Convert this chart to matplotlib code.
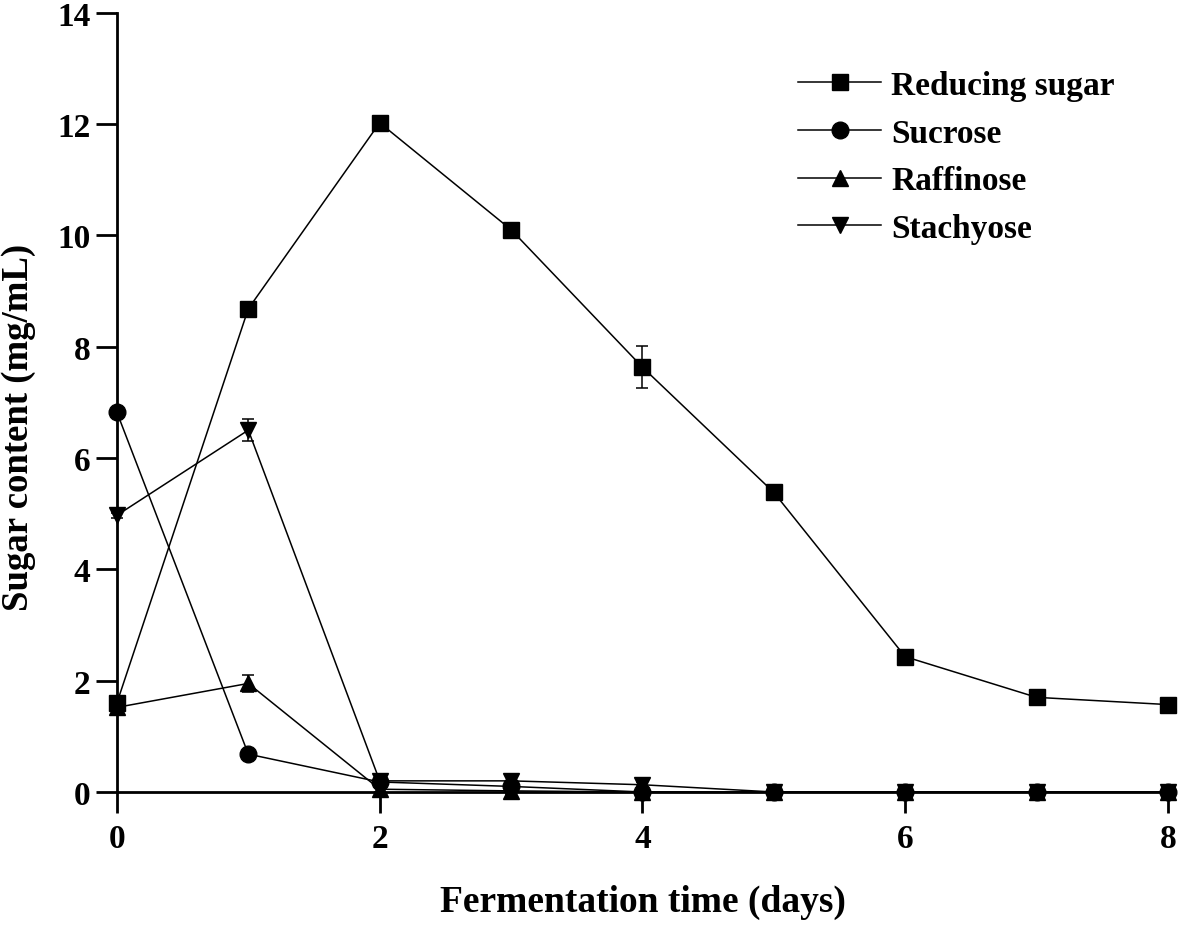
import numpy as np
import matplotlib.pyplot as plt

plt.rcParams['font.family'] = ['Liberation Serif', 'DejaVu Serif']
plt.rcParams['font.weight'] = 'bold'

days = [0, 1, 2, 3, 4, 5, 6, 7, 8]
reducing = [1.6, 8.68, 12.02, 10.1, 7.63, 5.38, 2.43, 1.7, 1.57]
reducing_err = [0.05, 0.05, 0.12, 0.05, 0.38, 0.05, 0.05, 0.05, 0.05]
sucrose = [6.82, 0.68, 0.18, 0.1, 0.0, 0.0, 0.0, 0.0, 0.0]
sucrose_err = [0.05, 0.05, 0.05, 0.05, 0.1, 0.05, 0.05, 0.05, 0.05]
raffinose = [1.52, 1.95, 0.05, 0.02, 0.0, 0.0, 0.0, 0.0, 0.0]
raffinose_err = [0.05, 0.15, 0.05, 0.05, 0.05, 0.05, 0.05, 0.05, 0.05]
stachyose = [4.97, 6.5, 0.2, 0.2, 0.13, 0.0, 0.0, 0.0, 0.0]
stachyose_err = [0.05, 0.2, 0.05, 0.1, 0.05, 0.05, 0.05, 0.05, 0.05]

series = [
    ('Reducing sugar', reducing, reducing_err, 's'),
    ('Sucrose', sucrose, sucrose_err, 'o'),
    ('Raffinose', raffinose, raffinose_err, '^'),
    ('Stachyose', stachyose, stachyose_err, 'v'),
]

fig = plt.figure(figsize=(11.81, 9.29), dpi=100)
ax = fig.add_axes([0.099, 0.1464, 0.890, 0.839])

for name, vals, err, m in series:
    ax.errorbar(days, vals, yerr=err, fmt='none', ecolor='k', elinewidth=1.1,
                capsize=4, capthick=1.1, clip_on=False, zorder=3)
    ax.plot(days, vals, color='k', lw=1.1, marker=m, ms=12, label=name,
            clip_on=False, zorder=4)

ax.set_xlim(0, 8)
ax.set_ylim(0, 14)
ax.set_xticks([0, 2, 4, 6, 8])
ax.set_yticks(np.arange(0, 15, 2))
for s in ['top', 'right']:
    ax.spines[s].set_visible(False)
for s in ['left', 'bottom']:
    ax.spines[s].set_linewidth(2)
ax.tick_params(direction='out', length=15, width=2, labelsize=24, pad=4)
ax.tick_params(axis='x', pad=7)
ax.set_xlabel('Fermentation time (days)', fontsize=27, fontweight='bold', labelpad=22)
ax.set_ylabel('Sugar content (mg/mL)', fontsize=26.5, fontweight='bold')
ax.yaxis.set_label_coords(-0.077, 0.4685)

ax.legend(loc='upper right', bbox_to_anchor=(0.978, 0.965), frameon=False, fontsize=24,
          handlelength=2.5, handletextpad=0.3, labelspacing=0.5)

fig.savefig('out.png', dpi=100)
